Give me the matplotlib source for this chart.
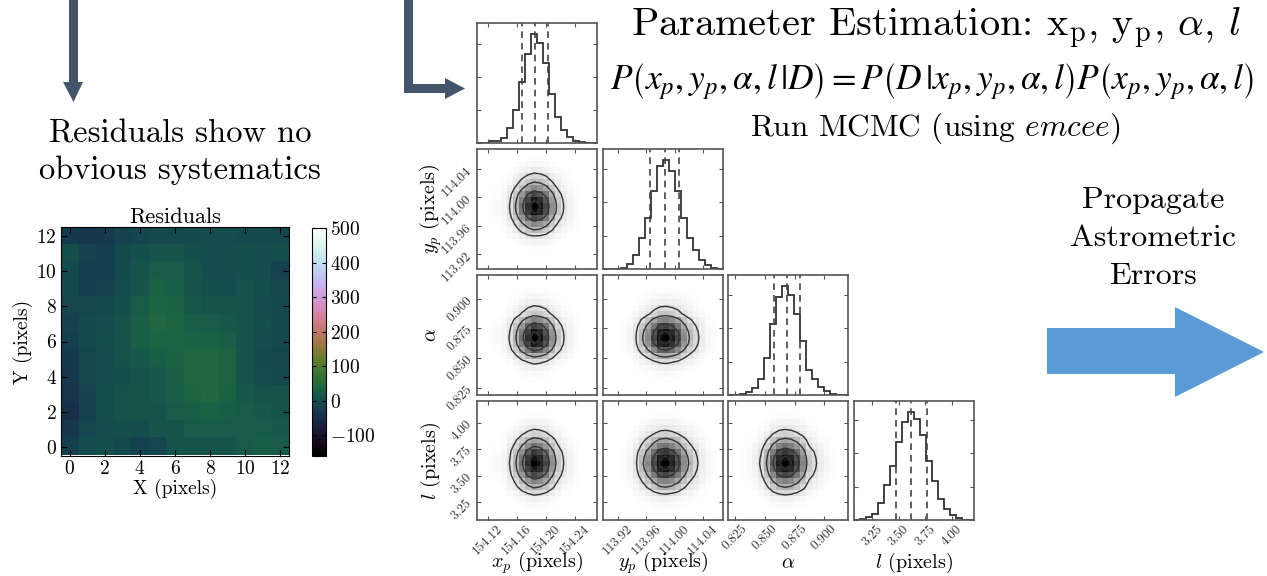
import numpy as np
import matplotlib
import matplotlib.pyplot as plt
from matplotlib.colors import LinearSegmentedColormap
from matplotlib.patches import Polygon

plt.rcParams['font.family'] = ['cmr10', 'DejaVu Serif']
plt.rcParams['mathtext.fontset'] = 'cm'
plt.rcParams['axes.formatter.use_mathtext'] = True
plt.rcParams['axes.unicode_minus'] = True

W, H = 1267, 576

# residual image, rows from y=0 (bottom) to y=12 (top)
residuals = np.array([
    [-25, -5, 0, -10, -20, -15, 5, 10, 10, 10, 20, 25, 20],
    [-35, -15, -5, 0, -5, 5, 10, 20, 20, 20, 20, 20, 15],
    [-45, -20, 0, 5, 10, 10, 20, 25, 30, 25, 20, 15, 10],
    [-40, -20, 0, 5, 5, 15, 25, 35, 40, 30, 15, 10, 5],
    [-35, -15, -5, 0, 10, 15, 25, 40, 40, 35, 10, -5, -10],
    [-30, -15, -5, 5, 15, 25, 30, 40, 40, 35, 5, -10, -15],
    [-25, -10, 0, 10, 25, 35, 35, 30, 30, 25, 5, -5, -10],
    [-20, -10, -5, 5, 25, 40, 35, 25, 20, 15, 10, 0, -10],
    [-15, -15, -10, 0, 20, 35, 30, 15, 10, 5, 5, -5, -10],
    [-10, -25, -20, -5, 10, 30, 25, 10, 0, -5, 5, 0, -15],
    [-10, -25, -25, -10, 5, 20, 20, 5, -5, -5, 0, -5, -20],
    [0, -20, -25, -10, 0, 5, 5, 0, -5, -5, 0, -5, 0],
    [-30, -35, -30, -20, -15, -10, -10, -10, -5, -5, -10, -10, -10],
])
res_ticks = [0, 2, 4, 6, 8, 10, 12]
cbar_ticks = [-100, 0, 100, 200, 300, 400, 500]

# corner plot: 20-bin marginal histograms
param_labels = [r'$x_p$ (pixels)', r'$y_p$ (pixels)', r'$\alpha$', r'$l$ (pixels)']
param_ranges = [(154.105, 154.271), (113.899, 114.068), (0.819, 0.920), (3.08, 4.205)]
param_ticks = [[154.12, 154.16, 154.20, 154.24],
               [113.92, 113.96, 114.00, 114.04],
               [0.825, 0.850, 0.875, 0.900],
               [3.25, 3.50, 3.75, 4.00]]
tick_fmt = ['%.2f', '%.2f', '%.3f', '%.2f']
hist_xp = [0, 1, 5, 7, 14, 44, 101, 184, 269, 329, 301, 241, 149, 77, 39, 19, 7, 2, 0, 0]
hist_yp = [0, 0, 1, 4, 14, 41, 94, 154, 236, 309, 328, 294, 236, 154, 94, 56, 26, 11, 4, 1]
hist_alpha = [0, 0, 4, 8, 21, 48, 111, 211, 294, 326, 300, 241, 161, 76, 48, 24, 11, 4, 1, 0]
hist_l = [0, 2, 8, 18, 51, 105, 161, 235, 295, 325, 303, 255, 178, 118, 63, 33, 15, 5, 1, 0]
hists = [hist_xp, hist_yp, hist_alpha, hist_l]
quantiles = [[154.1674, 154.1855, 154.2036],
             [113.965, 113.986, 114.006],
             [0.8575, 0.8683, 0.8795],
             [3.474, 3.614, 3.763]]

col_px = [(477, 597), (603, 723), (728, 848), (854, 974)]
row_px = [(23, 143), (149, 269), (275, 395), (401, 520)]


def box(x0, y0, x1, y1):
    return [x0 / W, 1 - y1 / H, (x1 - x0) / W, (y1 - y0) / H]


def pt(x, y):
    return (x / W, 1 - y / H)


fig = plt.figure(figsize=(W / 100, H / 100), dpi=100)

# ---- residual image
ax = fig.add_axes(box(61, 227, 289, 456))
im = ax.imshow(residuals, origin='lower', cmap='cubehelix', vmin=-160, vmax=500,
               interpolation='nearest', extent=[-0.5, 12.5, -0.5, 12.5])
ax.set_xticks(res_ticks)
ax.set_yticks(res_ticks)
ax.tick_params(direction='in', top=True, right=True, labelsize=14, length=4, pad=3)
ax.set_xlabel('X (pixels)', fontsize=14, labelpad=1)
ax.set_ylabel('Y (pixels)', fontsize=14, labelpad=2)
ax.set_title('Residuals', fontsize=16, pad=3)
cax = fig.add_axes(box(312, 228, 326, 456))
cb = fig.colorbar(im, cax=cax, ticks=cbar_ticks)
cb.ax.tick_params(direction='in', labelsize=14, length=3, left=True, pad=3)

# ---- corner plot
dens_cmap = LinearSegmentedColormap.from_list('dens', ['white', 'black'])
sig = np.array([0.5, 1.0, 1.5, 2.0])
mass_levels = 1.0 - np.exp(-0.5 * sig ** 2)
edges = [np.linspace(r[0], r[1], 21) for r in param_ranges]
frame_col = '#555555'

for i in range(4):
    for j in range(i + 1):
        a = fig.add_axes(box(col_px[j][0], row_px[i][0], col_px[j][1], row_px[i][1]))
        for s in a.spines.values():
            s.set_color(frame_col)
            s.set_linewidth(1.2)
        a.tick_params(direction='in', top=True, right=True, colors=frame_col,
                      labelcolor='#333333', labelsize=9.5, length=3, pad=2)
        if i == j:
            c = np.array(hists[i], float)
            a.stairs(c, edges[i], color='#333333', lw=1.3)
            for q in quantiles[i]:
                a.axvline(q, color='#444444', ls='--', lw=1.2, dashes=(4, 3))
            a.set_ylim(0, 1.1 * c.max())
            a.set_yticklabels([])
        else:
            hx = np.array(hists[j], float)
            hy = np.array(hists[i], float)
            Hd = np.outer(hy, hx)
            Hd = Hd / Hd.sum()
            srt = np.sort(Hd.ravel())[::-1]
            cum = np.cumsum(srt)
            V = np.sort([srt[np.argmin(np.abs(cum - m))] for m in mass_levels])
            a.pcolormesh(edges[j], edges[i], Hd / Hd.max(), cmap=dens_cmap,
                         vmin=0, vmax=1, shading='flat')
            xc = 0.5 * (edges[j][1:] + edges[j][:-1])
            yc = 0.5 * (edges[i][1:] + edges[i][:-1])
            a.contour(xc, yc, Hd, V, colors='#333333', linewidths=1.0)
            a.set_ylim(param_ranges[i])
            a.set_yticks(param_ticks[i])
        a.set_xlim(param_ranges[j])
        a.set_xticks(param_ticks[j])
        if i == 3:
            a.set_xticklabels([tick_fmt[j] % v for v in param_ticks[j]], rotation=45)
        else:
            a.set_xticklabels([])
        if j == 0 and i > 0:
            a.set_yticklabels([tick_fmt[i] % v for v in param_ticks[i]], rotation=45)
        elif i != j:
            a.set_yticklabels([])

for k in range(4):
    fig.text(*pt(sum(col_px[k]) / 2, 563), param_labels[k], fontsize=14.5,
             ha='center', va='center')
    if k > 0:
        fig.text(*pt(431, sum(row_px[k]) / 2), param_labels[k], fontsize=14.5,
                 ha='center', va='center', rotation=90)

# ---- arrows and slide text
slate = '#44546a'
fig.patches.append(Polygon([pt(69, 0), pt(78, 0), pt(78, 82), pt(83, 82), pt(73.5, 102),
                            pt(63, 82), pt(69, 82)], closed=True, transform=fig.transFigure,
                           facecolor=slate, edgecolor='none'))
fig.patches.append(Polygon([pt(404, 0), pt(413, 0), pt(413, 84), pt(445, 84), pt(445, 78),
                            pt(465, 88.5), pt(445, 99), pt(445, 93), pt(404, 93)], closed=True,
                           transform=fig.transFigure, facecolor=slate, edgecolor='none'))
fig.patches.append(Polygon([pt(1047, 328), pt(1175, 328), pt(1175, 307), pt(1264, 352),
                            pt(1175, 397), pt(1175, 374), pt(1047, 374)], closed=True,
                           transform=fig.transFigure, facecolor='#5b9bd5', edgecolor='none'))

fig.text(*pt(180, 134), 'Residuals show no', fontsize=23.5, ha='center', va='center')
fig.text(*pt(180, 170), 'obvious systematics', fontsize=23.5, ha='center', va='center')
fig.text(*pt(1153, 200), 'Propagate', fontsize=23, ha='center', va='center')
fig.text(*pt(1153, 238), 'Astrometric', fontsize=23, ha='center', va='center')
fig.text(*pt(1153, 276), 'Errors', fontsize=23, ha='center', va='center')

fig.text(*pt(936, 28), r'Parameter Estimation: x$_\mathrm{p}$, y$_\mathrm{p}$, $\alpha$, $l$',
         fontsize=29, ha='center', va='center')
fig.text(*pt(932, 82),
         r'$P\left(x_p, y_p, \alpha, l\,|D\right) = P\left(D\,|x_p, y_p, \alpha, l\right)P\left(x_p, y_p, \alpha, l\right)$',
         fontsize=25.5, ha='center', va='center', math_fontfamily='stix')
fig.text(*pt(935, 128), r'Run MCMC (using $\mathit{emcee}$)', fontsize=22.5,
         ha='center', va='center')

fig.savefig('out.png', dpi=100)
